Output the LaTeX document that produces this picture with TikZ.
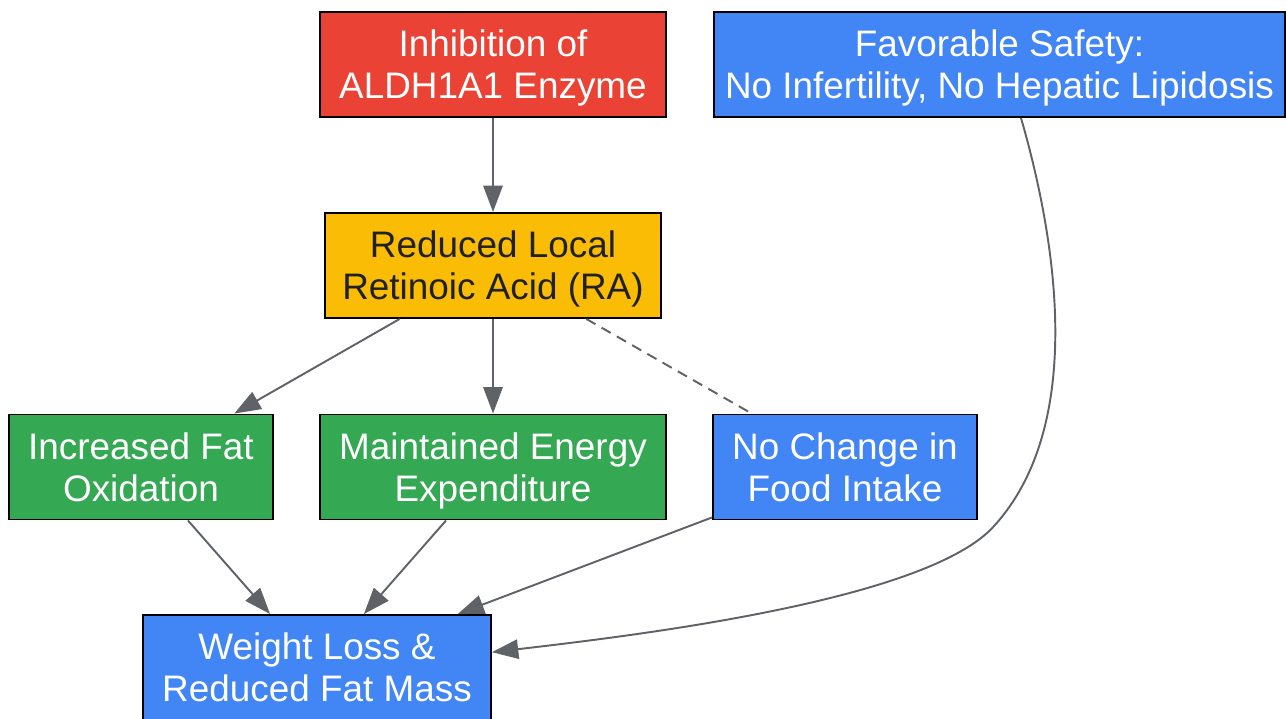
\documentclass[tikz,border=0pt]{standalone}
\usepackage{fontspec}
\setmainfont{Liberation Sans}
\usetikzlibrary{arrows.meta}

\definecolor{gred}{HTML}{EA4335}
\definecolor{gyellow}{HTML}{FBBC05}
\definecolor{ggreen}{HTML}{34A853}
\definecolor{gblue}{HTML}{4285F4}
\definecolor{gedge}{HTML}{5F6368}
\definecolor{gdark}{HTML}{202124}

\begin{document}
\begin{tikzpicture}[x=0.02cm,y=-0.02cm,
    >={Triangle[length=15pt,width=11pt]},
    box/.style={draw=black,line width=1.1pt,align=center,minimum height=2.1cm,
        inner sep=2pt,text depth=-3.5pt,font=\fontsize{21}{24}\selectfont,text=white},
    edge/.style={draw=gedge,line width=1.1pt}]
    \useasboundingbox (0,0) rectangle (1286,719);
 %   \coordinate (top) at (493,12);

    \node[box,fill=gred,minimum width=6.92cm] (inhib) at (493,64.5) {Inhibition of\\ALDH1A1 Enzyme};
    \node[box,fill=gblue,minimum width=11.44cm] (safety) at (999.5,64.5) {Favorable Safety:\\No Infertility, No Hepatic Lipidosis};
    \node[box,fill=gyellow,text=gdark,minimum width=6.72cm] (ra) at (493,265.5) {Reduced Local\\Retinoic Acid (RA)};
    \node[box,fill=ggreen,minimum width=5.28cm] (fatox) at (141,467) {Increased Fat\\Oxidation};
    \node[box,fill=ggreen,minimum width=6.92cm] (energy) at (493,467) {Maintained Energy\\Expenditure};
    \node[box,fill=gblue,minimum width=5.28cm] (food) at (845,467) {No Change in\\Food Intake};
    \node[box,fill=gblue,minimum width=6.96cm] (loss) at (317,667.5) {Weight Loss \&\\Reduced Fat Mass};

    \draw[edge,->] (inhib) -- (ra);
    \draw[edge,->] (ra) -- (fatox);
    \draw[edge,->] (ra) -- (energy);
    \draw[edge,dash pattern=on 6pt off 4pt] (ra) -- (food);
    \draw[edge,->] (fatox) -- (loss);
    \draw[edge,->] (energy) -- (loss);
    \draw[edge,->] (food) -- (loss);
    \draw[edge,->] (safety.south) ++(21.5,0) .. controls (1062,260) and (1080,430) .. (995,525)
        .. controls (930,600) and (640,635) .. (loss.5.6);

\end{tikzpicture}
\end{document}
